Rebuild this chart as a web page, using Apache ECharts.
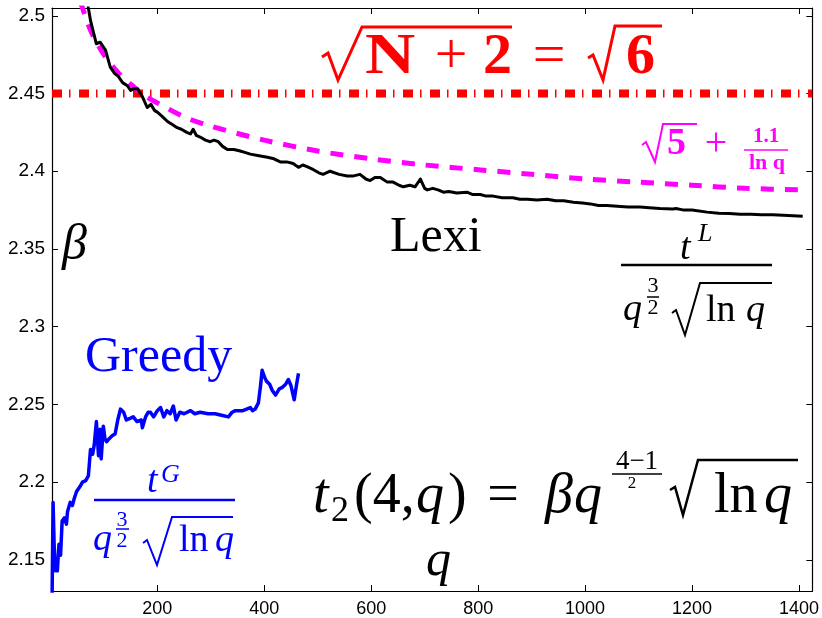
<!DOCTYPE html>
<html>
<head>
<meta charset="utf-8">
<script src="https://cdn.jsdelivr.net/npm/echarts@6/dist/echarts.min.js"></script>
<style>
html, body {margin:0; padding:0; background:#fff;}
#main {width:822px; height:618px;}
</style>
</head>
<body>
<div id="main"></div>
<script>
// Lexi curve (black)
var lexiQ = [65, 71, 75, 80, 86, 93, 103, 112, 120, 127, 135, 144, 150, 155, 163, 172, 181, 188, 195, 200,
    210, 219, 228, 237, 245, 255, 262, 267, 273, 280, 290, 299, 306, 314, 322, 331, 343, 355, 365, 374,
    390, 406, 418, 430, 442, 454, 464, 472, 480, 492, 502, 510, 523, 540, 555, 567, 579, 590, 598, 607,
    617, 630, 641, 652, 660, 672, 682, 692, 700, 705, 715, 725, 735, 745, 760, 779, 790, 804, 815, 828,
    845, 865, 878, 892, 910, 929, 945, 960, 978, 995, 1010, 1025, 1041, 1060, 1080, 1103, 1120, 1140, 1164, 1170,
    1185, 1200, 1228, 1250, 1270, 1290, 1310, 1330, 1351, 1380, 1407];
var lexiBeta = [2.52, 2.505, 2.497, 2.490, 2.482, 2.483, 2.478, 2.467, 2.463, 2.461, 2.457, 2.455, 2.452, 2.453, 2.453, 2.448, 2.441, 2.443, 2.439, 2.438,
    2.435, 2.432, 2.430, 2.428, 2.427, 2.425, 2.424, 2.427, 2.423, 2.422, 2.420, 2.419, 2.420, 2.419, 2.416, 2.414, 2.414, 2.413, 2.412, 2.411,
    2.410, 2.409, 2.408, 2.406, 2.406, 2.405, 2.4025, 2.404, 2.403, 2.401, 2.399, 2.398, 2.400, 2.398, 2.397, 2.397, 2.398, 2.395, 2.394, 2.396,
    2.396, 2.393, 2.393, 2.391, 2.390, 2.391, 2.390, 2.395, 2.389, 2.388, 2.389, 2.388, 2.3865, 2.387, 2.386, 2.3865, 2.385, 2.385, 2.384, 2.384,
    2.383, 2.383, 2.382, 2.382, 2.3815, 2.382, 2.381, 2.381, 2.380, 2.3795, 2.379, 2.378, 2.378, 2.3775, 2.377, 2.377, 2.3765, 2.376, 2.3757, 2.376,
    2.375, 2.375, 2.3737, 2.373, 2.3728, 2.3724, 2.3723, 2.372, 2.372, 2.3715, 2.371];

// Greedy curve (blue)
var greedyQ = [3, 5, 7, 9, 13, 16, 19, 22, 26, 30, 32, 35, 37, 41, 45, 49, 55, 60, 66, 71,
    75, 79, 82, 86, 90, 93, 95, 99, 102, 105, 110, 116, 121, 126, 131, 137, 142, 149, 155, 162,
    170, 172, 178, 183, 187, 193, 200, 206, 212, 218, 224, 230, 235, 242, 250, 262, 270, 280, 295, 308,
    320, 333, 340, 346, 360, 374, 378, 383, 389, 393, 396, 400, 404, 410, 415, 421, 428, 434, 440, 445,
    450, 456, 460, 464];
var greedyBeta = [2.12, 2.187, 2.16, 2.143, 2.143, 2.16, 2.153, 2.175, 2.177, 2.173, 2.181, 2.181, 2.187, 2.185, 2.19, 2.194, 2.197, 2.2, 2.201, 2.204,
    2.221, 2.218, 2.224, 2.239, 2.217, 2.234, 2.215, 2.236, 2.228, 2.226, 2.228, 2.230, 2.231, 2.240, 2.247, 2.245, 2.240, 2.241, 2.242, 2.239,
    2.240, 2.235, 2.242, 2.245, 2.245, 2.242, 2.246, 2.248, 2.242, 2.246, 2.244, 2.249, 2.240, 2.245, 2.244, 2.246, 2.244, 2.245, 2.244, 2.244,
    2.243, 2.242, 2.245, 2.246, 2.246, 2.248, 2.246, 2.247, 2.251, 2.262, 2.272, 2.268, 2.265, 2.263, 2.259, 2.256, 2.26, 2.261, 2.263, 2.266,
    2.262, 2.253, 2.262, 2.270];

// sqrt(5) + 1.1/ln q (magenta dashed), values read at sample q
var boundQ = [56, 60, 70, 80, 100, 125, 150, 175, 200, 250, 300, 400, 500, 600, 700, 800, 900, 1000, 1100, 1200, 1300, 1410];
var boundBeta = [2.509, 2.505, 2.495, 2.487, 2.475, 2.464, 2.456, 2.449, 2.444, 2.435, 2.429, 2.420, 2.413, 2.408, 2.404, 2.401, 2.398, 2.395, 2.393, 2.391, 2.389, 2.388];

// sqrt(N+2) = sqrt(6) level (red dash-dot)
var levelQ = [3, 1425];
var levelBeta = [2.45, 2.45];

var qMin = 3, qMax = 1425;
var betaMin = 2.13, betaMax = 2.505;

function pairs(xs, ys) {
    return xs.map(function(x, i) { return [x, ys[i]]; });
}

var serif = 'Liberation Serif';

// text placed by its baseline
function mtext(x, base, str, size, color, opt) {
    opt = opt || {};
    return {
        type: 'text', z: 100, x: x, y: base - 0.29 * size,
        scaleX: opt.sx || 1,
        style: {
            text: str, fill: color, fontSize: size, fontFamily: serif,
            fontStyle: opt.italic ? 'italic' : 'normal',
            fontWeight: opt.bold ? 'bold' : 'normal',
            align: opt.align || 'left', verticalAlign: 'middle'
        }
    };
}
function hline(x1, x2, y, color, w) {
    return {type: 'line', z: 100, shape: {x1: x1, y1: y, x2: x2, y2: y}, style: {stroke: color, lineWidth: w}};
}
function radical(pts, color, w) {
    return {type: 'polyline', z: 100, shape: {points: pts}, style: {stroke: color, lineWidth: w, fill: null, lineJoin: 'miter'}};
}

var red = '#ff0000', mag = '#ff00ff', blue = '#0000ff', blk = '#000000';

var labels = [
    // sqrt(N+2) = sqrt(6)
    radical([[322, 57], [328, 53], [338, 80], [362, 27], [512, 27]], red, 3),
    mtext(365, 75, 'N', 58, red, {bold: true, sx: 1.2}),
    mtext(451, 75, '+', 58, red, {align: 'center'}),
    mtext(483, 75, '2', 58, red, {bold: true}),
    mtext(549, 75, '=', 58, red, {align: 'center'}),
    radical([[588, 58], [593, 55], [603, 80], [615, 26], [662, 26]], red, 3),
    mtext(626, 75, '6', 58, red, {bold: true}),

    // sqrt(5) + 1.1/ln q
    radical([[642, 145], [646, 142], [655, 162], [663, 124], [697, 124]], mag, 2),
    mtext(667, 155, '5', 38, mag, {bold: true}),
    mtext(716, 156, '+', 40, mag, {align: 'center'}),
    mtext(766, 143, '1.1', 21, mag, {bold: true, align: 'center'}),
    hline(744, 788, 150, mag, 1.5),
    mtext(767, 170, 'ln q', 22, mag, {bold: true, align: 'center'}),

    // Lexi
    mtext(390, 252, 'Lexi', 50, blk),
    mtext(62, 260, 'β', 50, blk, {italic: true}),
    mtext(680, 260, 't', 38, blk, {italic: true}),
    mtext(698, 242, 'L', 26, blk, {italic: true}),
    hline(621, 772, 265, blk, 2.5),
    mtext(623, 321, 'q', 38, blk, {italic: true}),
    mtext(653, 293, '3', 22, blk, {align: 'center'}),
    hline(647, 659, 297, blk, 1.5),
    mtext(653, 315, '2', 22, blk, {align: 'center'}),
    radical([[672, 313], [676, 310], [685, 335], [700, 283], [772, 283]], blk, 2),
    mtext(706, 322, 'ln', 38, blk),
    mtext(746, 322, 'q', 38, blk, {italic: true}),

    // Greedy
    mtext(85, 372, 'Greedy', 50, blue),
    mtext(147, 493, 't', 38, blue, {italic: true}),
    mtext(161, 483, 'G', 26, blue, {italic: true}),
    hline(94, 235, 500, blue, 2.5),
    mtext(93, 551, 'q', 38, blue, {italic: true}),
    mtext(122, 527, '3', 22, blue, {align: 'center'}),
    hline(116, 129, 529, blue, 1.5),
    mtext(122, 548, '2', 22, blue, {align: 'center'}),
    radical([[143, 543], [147, 540], [157, 565], [172, 517], [233, 517]], blue, 2),
    mtext(179, 552, 'ln', 38, blue),
    mtext(215, 552, 'q', 38, blue, {italic: true}),

    // t2(4,q) = beta q^((4-1)/2) sqrt(ln q)
    mtext(313, 514, 't', 56, blk, {italic: true}),
    mtext(331, 522, '2', 36, blk),
    mtext(354, 514, '(4,', 56, blk),
    mtext(416, 514, 'q', 56, blk, {italic: true}),
    mtext(448, 514, ')', 56, blk),
    mtext(503, 514, '=', 56, blk, {align: 'center'}),
    mtext(545, 514, 'β', 56, blk, {italic: true}),
    mtext(574, 514, 'q', 56, blk, {italic: true}),
    mtext(637, 470, '4−1', 27, blk, {align: 'center'}),
    hline(612, 662, 474, blk, 1.5),
    mtext(632, 488, '2', 17, blk, {align: 'center'}),
    radical([[670, 490], [675, 487], [683, 515], [698, 460], [798, 460]], blk, 2.5),
    mtext(714, 514, 'ln', 56, blk),
    mtext(764, 514, 'q', 56, blk, {italic: true}),

    // x axis name
    mtext(426, 576, 'q', 50, blk, {italic: true})
];

var myChart = echarts.init(document.getElementById('main'));

var tickStyle = {inside: true, length: 6, lineStyle: {color: '#000', width: 1}};
var lineStyleAxis = {show: true, lineStyle: {color: '#000', width: 1.2}};

var option = {
    animation: false,
    backgroundColor: '#fff',
    grid: {left: 52, right: 9, top: 8, bottom: 26, containLabel: false},
    xAxis: [
        {
            type: 'value', min: qMin, max: qMax, minInterval: 200, maxInterval: 200,
            position: 'bottom',
            axisLine: lineStyleAxis, axisTick: tickStyle, splitLine: {show: false},
            axisLabel: {
                color: '#000', fontSize: 18, fontFamily: 'Liberation Sans', margin: 9,
                formatter: function(v) { return v % 200 === 0 ? String(v) : ''; }
            }
        },
        {
            type: 'value', min: qMin, max: qMax, minInterval: 200, maxInterval: 200,
            position: 'top',
            axisLine: lineStyleAxis, axisTick: tickStyle, splitLine: {show: false},
            axisLabel: {show: false}
        }
    ],
    yAxis: [
        {
            type: 'value', min: betaMin, max: betaMax, minInterval: 0.05, maxInterval: 0.05,
            position: 'left',
            axisLine: lineStyleAxis, axisTick: tickStyle, splitLine: {show: false},
            axisLabel: {
                color: '#000', fontSize: 19, fontFamily: 'Liberation Sans', margin: 7,
                formatter: function(v) {
                    var k = v * 20;
                    return Math.abs(k - Math.round(k)) < 1e-6 ? String(Math.round(v * 100) / 100) : '';
                }
            }
        },
        {
            type: 'value', min: betaMin, max: betaMax, minInterval: 0.05, maxInterval: 0.05,
            position: 'right',
            axisLine: lineStyleAxis, axisTick: tickStyle, splitLine: {show: false},
            axisLabel: {show: false}
        }
    ],
    series: [
        {
            name: 'level', type: 'line', data: pairs(levelQ, levelBeta),
            showSymbol: false, clip: true,
            lineStyle: {color: red, width: 8, type: [10, 7, 1.5, 8.5], cap: 'butt'}
        },
        {
            name: 'bound', type: 'line', data: pairs(boundQ, boundBeta),
            showSymbol: false, clip: true, smooth: 0.3,
            lineStyle: {color: mag, width: 5, type: [13, 11], cap: 'butt'}
        },
        {
            name: 'Lexi', type: 'line', data: pairs(lexiQ, lexiBeta),
            showSymbol: false, clip: true,
            lineStyle: {color: blk, width: 3, join: 'round'}
        },
        {
            name: 'Greedy', type: 'line', data: pairs(greedyQ, greedyBeta),
            showSymbol: false, clip: true,
            lineStyle: {color: blue, width: 3.5, join: 'round'}
        }
    ],
    graphic: labels
};

myChart.setOption(option);
</script>
</body>
</html>
